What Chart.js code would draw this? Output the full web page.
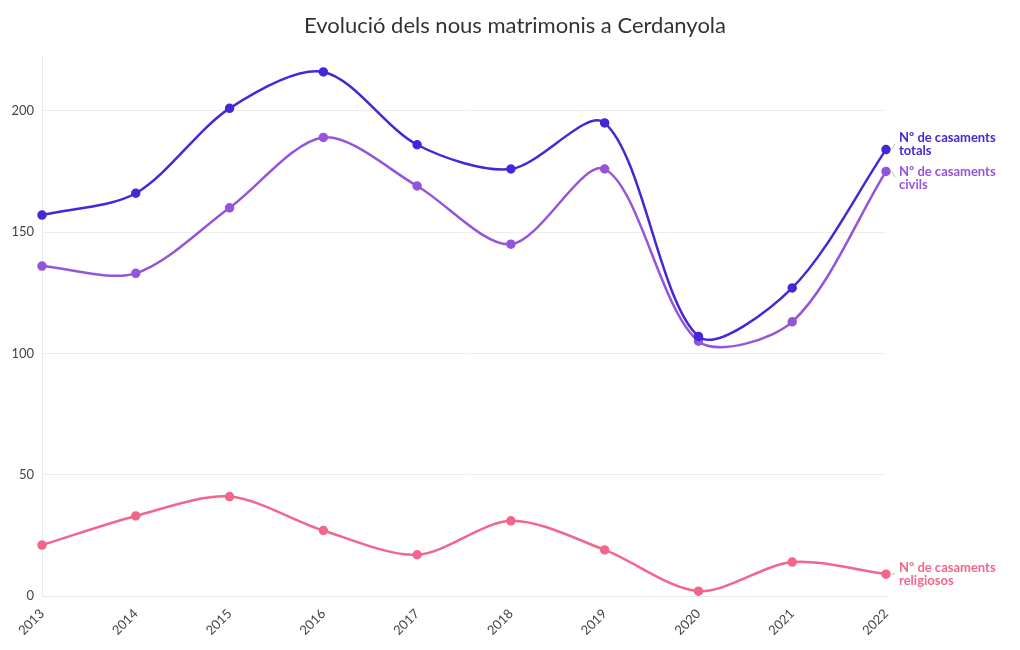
<!DOCTYPE html>
<html>
<head>
    <title>Evolució dels nous matrimonis a Cerdanyola</title>
    <script src="https://cdn.jsdelivr.net/npm/chart.js"></script>
</head>
<body style="margin:0; background:white;">
    <div style="width:1020px; height:650px; position:relative;">
        <canvas id="matrimonisChart"></canvas>
    </div>

    <script>
        const years = ["2013", "2014", "2015", "2016", "2017", "2018", "2019", "2020", "2021", "2022"];
        const totals = [157, 166, 201, 216, 186, 176, 195, 107, 127, 184];
        const civils = [136, 133, 160, 189, 169, 145, 176, 105, 113, 175];
        const religiosos = [21, 33, 41, 27, 17, 31, 19, 2, 14, 9];
        const seriesNames = [["Nº de casaments", "totals"], ["Nº de casaments", "civils"], ["Nº de casaments", "religiosos"]];

        const colors = ["#4527d8", "#9455da", "#f2668b"];
        const labelShift = [-6, 6, 0];
        const FONT = "'Source Sans Pro', Lato, 'Noto Sans', sans-serif";

        // end-of-line labels, drawn next to the last point of each series
        const endLabels = {
            id: 'endLabels',
            afterDatasetsDraw(chart) {
                const ctx = chart.ctx;
                ctx.save();
                chart.data.datasets.forEach((ds, i) => {
                    const meta = chart.getDatasetMeta(i);
                    const pt = meta.data[meta.data.length - 1];
                    const y = pt.y + labelShift[i];
                    ctx.strokeStyle = "#bbb";
                    ctx.lineWidth = 1;
                    ctx.beginPath();
                    ctx.moveTo(pt.x + 6, pt.y);
                    ctx.lineTo(pt.x + 9, y);
                    ctx.stroke();
                    ctx.fillStyle = colors[i];
                    ctx.font = "bold 13px " + FONT;
                    ctx.textBaseline = "middle";
                    ctx.textAlign = "left";
                    ctx.fillText(seriesNames[i][0], pt.x + 13, y - 6);
                    ctx.fillText(seriesNames[i][1], pt.x + 13, y + 7);
                });
                ctx.restore();
            }
        };

        function makeSet(values, i) {
            return {
                label: seriesNames[i].join(" "),
                data: values,
                borderColor: colors[i],
                backgroundColor: colors[i],
                borderWidth: 2.5,
                pointRadius: 3.5,
                pointHoverRadius: 4,
                tension: 0.3,
                fill: false
            };
        }

        new Chart(document.getElementById("matrimonisChart"), {
            type: 'line',
            data: {
                labels: years,
                datasets: [makeSet(totals, 0), makeSet(civils, 1), makeSet(religiosos, 2)]
            },
            plugins: [endLabels],
            options: {
                responsive: true,
                maintainAspectRatio: false,
                animation: false,
                layout: { padding: { left: 10, right: 0, top: 0, bottom: 0 } },
                plugins: {
                    legend: { display: false },
                    tooltip: { enabled: false },
                    title: {
                        display: true,
                        text: "Evolució dels nous matrimonis a Cerdanyola",
                        color: "#333",
                        font: { family: FONT, size: 22, weight: 'normal' },
                        padding: { top: 13, bottom: 18 }
                    }
                },
                scales: {
                    x: {
                        offset: false,
                        grid: { display: false },
                        border: { color: "#e8e8e8" },
                        ticks: {
                            color: "#444",
                            font: { family: FONT, size: 13 },
                            maxRotation: 45,
                            minRotation: 45,
                            padding: 2
                        },
                        afterFit(scale) { scale.height = 54; }
                    },
                    y: {
                        min: 0,
                        max: 222,
                        grid: { color: "#eeeeee", drawTicks: false },
                        border: { color: "#e8e8e8" },
                        ticks: {
                            stepSize: 50,
                            color: "#444",
                            font: { family: FONT, size: 13 },
                            padding: 8,
                            callback: v => (v % 50 === 0 ? v : null)
                        },
                        afterFit(scale) { scale.width = 32; }
                    },
                    // empty right axis: room for the end labels
                    yRight: {
                        position: 'right',
                        display: true,
                        grid: { display: false },
                        border: { display: false },
                        ticks: { display: false },
                        afterFit(scale) { scale.width = 134; }
                    }
                }
            }
        });
    </script>
</body>
</html>
